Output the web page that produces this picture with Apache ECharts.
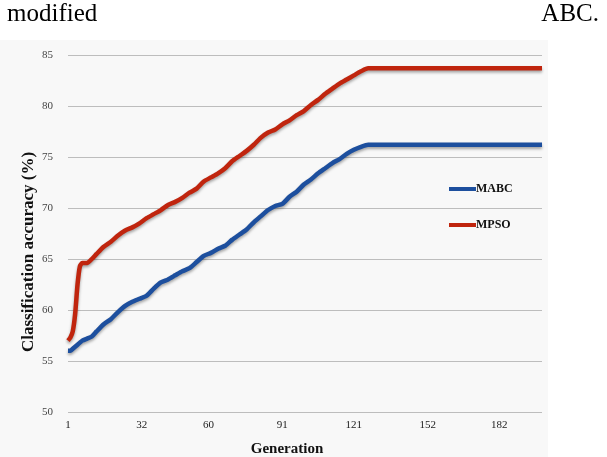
<!DOCTYPE html>
<html>
<head>
<meta charset="utf-8">
<script src="https://cdn.jsdelivr.net/npm/echarts@6/dist/echarts.min.js"></script>
<style>
  html, body { margin: 0; padding: 0; background: #fff; }
  #chart { width: 607px; height: 457px; }
</style>
</head>
<body>
<div id="chart"></div>
<script>
// generations
var generations = [1, 2, 3, 4, 5, 6, 7, 9, 11, 13, 16, 19, 22, 25, 28, 31, 34, 37, 40, 43,
  46, 49, 52, 55, 58, 61, 64, 67, 70, 73, 76, 79, 82, 85, 88, 91, 94, 97, 100, 103,
  106, 109, 112, 115, 118, 121, 124, 127, 130, 160, 200];

var mabc = [56.0, 56.0, 56.2, 56.4, 56.6, 56.8, 57.0, 57.2, 57.4, 57.9, 58.6, 59.1, 59.8, 60.4, 60.8, 61.1, 61.4, 62.1, 62.7, 63.0,
  63.4, 63.8, 64.1, 64.7, 65.3, 65.6, 66.0, 66.3, 66.9, 67.4, 67.9, 68.6, 69.2, 69.8, 70.2, 70.4, 71.1, 71.6, 72.3, 72.8,
  73.4, 73.9, 74.4, 74.8, 75.3, 75.7, 76.0, 76.2, 76.2, 76.2, 76.2];

var mpso = [57.0, 57.3, 57.9, 59.6, 62.5, 64.3, 64.6, 64.6, 65.0, 65.5, 66.2, 66.7, 67.3, 67.8, 68.1, 68.5, 69.0, 69.4, 69.8, 70.3,
  70.6, 71.0, 71.5, 71.9, 72.6, 73.0, 73.4, 73.9, 74.6, 75.1, 75.6, 76.2, 76.9, 77.4, 77.7, 78.2, 78.6, 79.1, 79.5, 80.1,
  80.6, 81.2, 81.7, 82.2, 82.6, 83.0, 83.4, 83.7, 83.7, 83.7, 83.7];

var xTicks = [1, 32, 60, 91, 121, 152, 182];

function pairs(vals) {
  return generations.map(function (g, i) { return [g, vals[i]]; });
}

var serif = '"Liberation Serif", "Times New Roman", serif';
var myChart = echarts.init(document.getElementById("chart"), null, { renderer: "canvas" });

var lineShadow = {
  shadowColor: "rgba(0,0,0,0.35)",
  shadowBlur: 3,
  shadowOffsetY: 2
};

var option = {
  animation: false,
  backgroundColor: "#ffffff",
  grid: { left: 68, right: 65, top: 55, bottom: 45 },
  graphic: [
    // light backdrop of the pasted figure
    { type: "rect", z: -10, shape: { x: 0, y: 40, width: 548, height: 417 }, style: { fill: "#f8f8f8" } },
    { type: "text", left: 7, top: 2, style: { text: "modified", font: "25px " + serif, fill: "#000" } },
    { type: "text", right: 8, top: 2, style: { text: "ABC.", font: "25px " + serif, fill: "#000" } },
    {
      type: "text", x: 29, y: 252, rotation: Math.PI / 2,
      style: { text: "Classification accuracy (%)", font: "bold 17px " + serif, fill: "#111", align: "center", verticalAlign: "middle" }
    },
    {
      type: "text", x: 287, y: 449,
      style: { text: "Generation", font: "bold 15px " + serif, fill: "#111", align: "center", verticalAlign: "middle" }
    }
  ],
  legend: {
    orient: "vertical",
    left: 444,
    top: 178,
    itemGap: 24,
    itemWidth: 27,
    itemHeight: 4,
    icon: "rect",
    textStyle: { fontFamily: serif, fontWeight: "bold", fontSize: 12, color: "#111", padding: [0, 0, 0, -5] },
    data: ["MABC", "MPSO"]
  },
  xAxis: {
    type: "value",
    min: 1,
    max: 200,
    axisLine: { show: false },
    axisTick: { show: false },
    splitLine: { show: false },
    axisLabel: { customValues: xTicks, fontFamily: serif, fontSize: 11, color: "#222", margin: 8 }
  },
  yAxis: {
    type: "value",
    min: 50,
    max: 85,
    interval: 5,
    axisLine: { show: false },
    axisTick: { show: false },
    splitLine: { lineStyle: { color: "#bdbdbd", width: 1 } },
    axisLabel: { fontFamily: serif, fontSize: 11, color: "#444", margin: 15 }
  },
  series: [
    {
      name: "MABC",
      type: "line",
      data: pairs(mabc),
      showSymbol: false,
      smooth: 0.2,
      color: "#1d4f9e",
      lineStyle: Object.assign({ width: 4.5, color: "#1d4f9e" }, lineShadow)
    },
    {
      name: "MPSO",
      type: "line",
      data: pairs(mpso),
      showSymbol: false,
      smooth: 0.2,
      color: "#c0250e",
      lineStyle: Object.assign({ width: 4.5, color: "#c0250e" }, lineShadow)
    }
  ]
};

myChart.setOption(option);
</script>
</body>
</html>
